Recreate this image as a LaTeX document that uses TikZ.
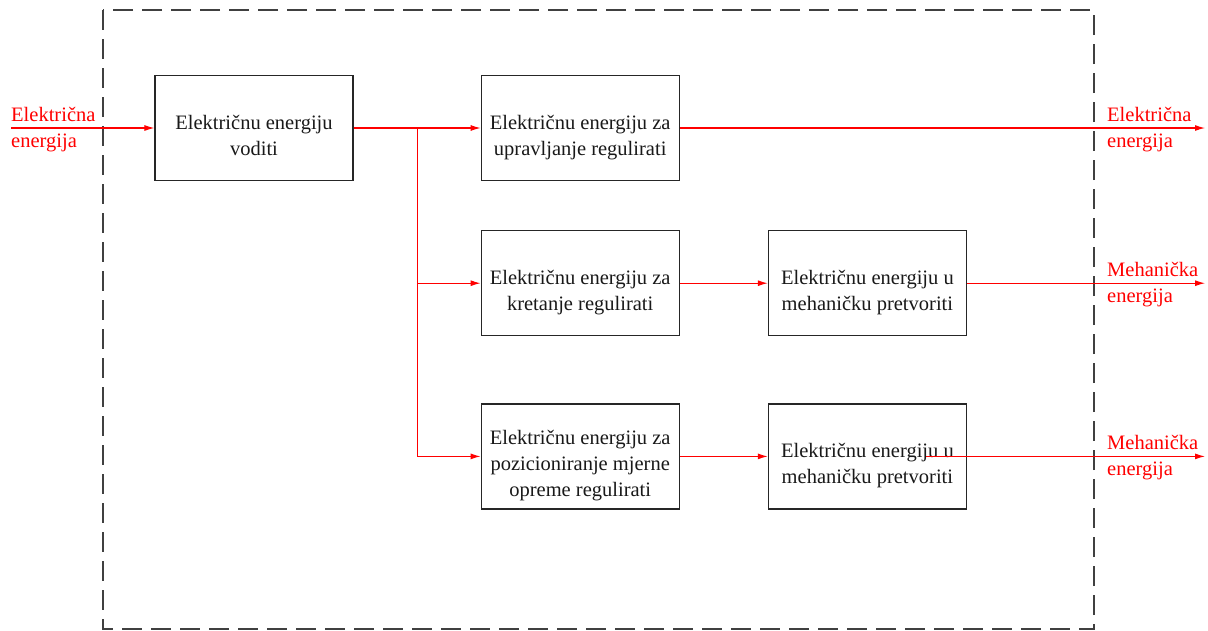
\documentclass[tikz,border=0pt]{standalone}
\usepackage{fontspec}
\setmainfont{Liberation Serif}
\usetikzlibrary{arrows.meta, calc, positioning}
\tikzset{> = { Latex[length = 10pt, width = 6pt] }}
\newcommand{\boxlines}[1]{\raisebox{-14pt}[0pt][0pt]{\begin{tabular}{@{}c@{}}#1\end{tabular}}}

\begin{document}
\begin{tikzpicture}[x = 1pt, y = -1pt,
		block/.style = { draw = black!85, line width = 1.2pt, minimum width = 198pt, minimum height = 105pt, inner sep = 0pt, text = black!90, font = \fontsize{20.5}{26}\selectfont },
		flow/.style = { ->, draw = red, line width = 1.1pt },
		flowlabel/.style = { anchor = base west, align = left, inner sep = 0pt, text = red, font = \fontsize{20.5}{26}\selectfont }]
		\useasboundingbox (0,0) rectangle (1208,630);
		\draw [black!75, line width = 1.2pt, dash pattern = on 20pt off 9pt] (103,10) rectangle (1094,629);

		\node [block]                  (b1) at (254,128) {\boxlines{Električnu energiju\\voditi}};
		\node [block, right = 127pt of b1] (b2) {\boxlines{Električnu energiju za\\upravljanje regulirati}};
		\node [block, below = 49pt of b2]  (b3) {\boxlines{Električnu energiju za\\kretanje regulirati}};
		\node [block, right = 88pt of b3]  (b4) {\boxlines{Električnu energiju u\\mehaničku pretvoriti}};
		\node [block, below = 67pt of b3]  (b5) {\boxlines{Električnu energiju za\\pozicioniranje mjerne\\opreme regulirati}};
		\node [block, right = 88pt of b5]  (b6) {\boxlines{Električnu energiju u\\mehaničku pretvoriti}};

		\coordinate (in) at (11,128);
		\coordinate (out) at (1205,128);
		\coordinate (split) at ($(b1.east)+(64,0)$);
		\coordinate (tap) at ($(b6.east)+(-41,0)$);

		\draw [flow] (in) -- (b1);
		\draw [flow] (b1) -- (b2);
		\draw [flow] (split) |- (b3);
		\draw [flow] (split) |- (b5);
		\draw [flow] (b3) -- (b4);
		\draw [flow] (b5) -- (b6);

		\draw [flow] (b2) -- (b2 -| out);
		\draw [flow] (b4) -- (b4 -| out);
		\draw [flow] (tap) -- (tap -| out);

		% base of a two-line label is its lower line
		\node [flowlabel] (lin)   at ($(in)+(0,19)$)           {Električna\\energija};
		\node [flowlabel] (lout1) at ($(b2 -| out)+(-98,19)$)  {Električna\\energija};
		\node [flowlabel] (lout2) at ($(b4 -| out)+(-98,19)$)  {Mehanička\\energija};
		\node [flowlabel] (lout3) at ($(tap -| out)+(-98,19)$) {Mehanička\\energija};
	\end{tikzpicture}
\end{document}
